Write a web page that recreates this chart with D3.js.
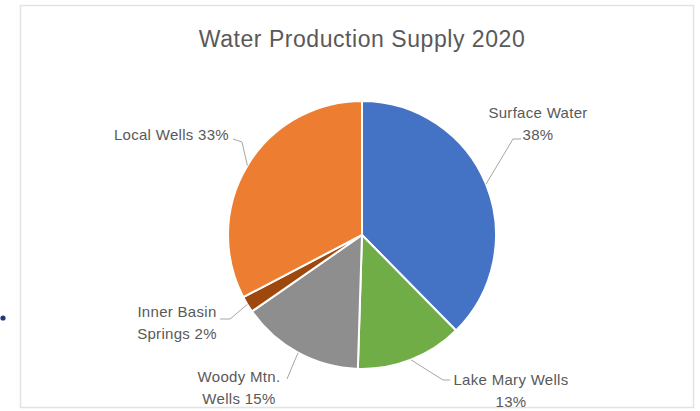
<!DOCTYPE html>
<html>
<head>
<meta charset="utf-8">
<script src="https://cdn.jsdelivr.net/npm/d3@7"></script>
<style>
  html, body { margin: 0; padding: 0; background: #fff; }
  svg { display: block; }
</style>
</head>
<body>
<svg id="chart" width="700" height="411"></svg>
<script>
// ---- data ----
const title = "Water Production Supply 2020";
const categories = ["Surface Water", "Lake Mary Wells", "Woody Mtn. Wells", "Inner Basin Springs", "Local Wells"];
const values = [38, 13, 15, 2, 33];
const labelLines = [
  ["Surface Water", "38%"],
  ["Lake Mary Wells", "13%"],
  ["Woody Mtn.", "Wells 15%"],
  ["Inner Basin", "Springs 2%"],
  ["Local Wells 33%"]
];
const colors = ["#4472C4", "#70AD47", "#8E8E8E", "#9E480E", "#ED7D31"];

// ---- layout ----
const W = 700, H = 411;
const cx = 362, cy = 235, R = 134;
const fontFamily = "'Liberation Sans', Arial, sans-serif";
const textColor = "#595959";
const lineColor = "#A6A6A6";

// label anchor (text center x, first baseline y) and leader elbow/end points
const labelLayout = [
  { x: 538, y: 118, anchor: "middle", elbow: [513, 139], end: [521, 139] },
  { x: 511, y: 385, anchor: "middle", elbow: [443, 380], end: [450, 380] },
  { x: 239, y: 382, anchor: "middle", elbow: null, end: [287, 379] },
  { x: 177, y: 317, anchor: "middle", elbow: [230, 319], end: [220, 319] },
  { x: 229, y: 140, anchor: "end", elbow: [242, 142], end: [233, 139] }
];

const svg = d3.select("#chart");
svg.append("rect").attr("x", 0).attr("y", 0).attr("width", W).attr("height", H).attr("fill", "#fff");

// chart area border
svg.append("rect")
  .attr("x", 20.5).attr("y", 5.5).attr("width", 673).attr("height", 402)
  .attr("fill", "#fff").attr("stroke", "#E3E3E3").attr("stroke-width", 1.5);

// stray dot outside chart
svg.append("circle").attr("cx", 3).attr("cy", 318).attr("r", 2.6).attr("fill", "#1F3A78");

// title
svg.append("text")
  .attr("x", 362).attr("y", 47)
  .attr("text-anchor", "middle")
  .attr("font-family", fontFamily)
  .attr("font-size", 23)
  .attr("letter-spacing", 0.55)
  .attr("fill", textColor)
  .text(title);

const pie = d3.pie().sort(null).value(d => d)(values);
const arc = d3.arc().innerRadius(0).outerRadius(R);

const g = svg.append("g").attr("transform", `translate(${cx},${cy})`);
g.selectAll("path.slice")
  .data(pie)
  .join("path")
  .attr("class", "slice")
  .attr("d", arc)
  .attr("fill", (d, i) => colors[i])
  .attr("stroke", "#fff")
  .attr("stroke-width", 2)
  .attr("stroke-linejoin", "round");

// leader lines
pie.forEach((d, i) => {
  const a = (d.startAngle + d.endAngle) / 2;
  const sx = cx + R * Math.sin(a), sy = cy - R * Math.cos(a);
  const L = labelLayout[i];
  const pts = [[sx, sy]];
  if (L.elbow) pts.push(L.elbow);
  pts.push(L.end);
  svg.append("path")
    .attr("d", d3.line()(pts))
    .attr("fill", "none")
    .attr("stroke", lineColor)
    .attr("stroke-width", 1);
});

// labels
labelLines.forEach((lines, i) => {
  const L = labelLayout[i];
  const t = svg.append("text")
    .attr("font-family", fontFamily)
    .attr("font-size", 15)
    .attr("letter-spacing", 0.3)
    .attr("fill", textColor)
    .attr("text-anchor", L.anchor);
  lines.forEach((ln, j) => {
    t.append("tspan").attr("x", L.x).attr("y", L.y + j * 21.5).text(ln);
  });
});
</script>
</body>
</html>
